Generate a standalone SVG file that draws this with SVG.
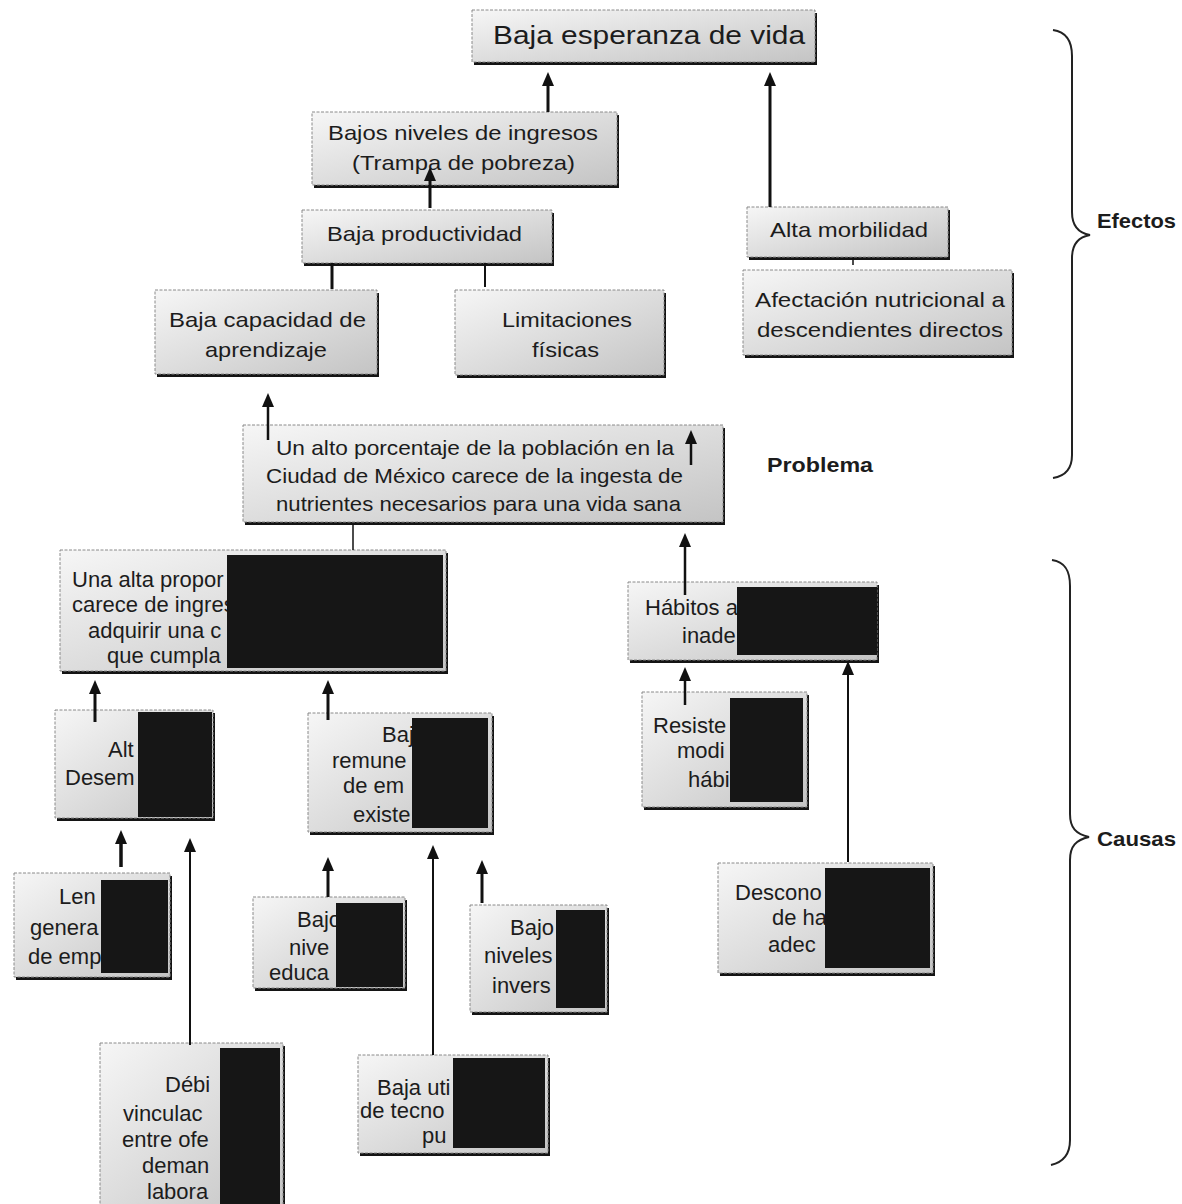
<svg xmlns="http://www.w3.org/2000/svg" width="1182" height="1204" viewBox="0 0 1182 1204">
<defs>
<linearGradient id="g" x1="0" y1="0" x2="1" y2="1">
<stop offset="0" stop-color="#f6f6f6"/>
<stop offset="1" stop-color="#c4c4c4"/>
</linearGradient>
<marker id="ah" markerUnits="userSpaceOnUse" markerWidth="14" markerHeight="14" refX="4" refY="7" orient="auto">
<path d="M0,1 L14,7 L0,13 z" fill="#111"/>
</marker>
<style>
.bx{fill:url(#g);stroke:#8a8a8a;stroke-width:1;stroke-dasharray:3 1.5}
.sh{fill:#141414}
.bk{fill:#161616}
text{font-family:"Liberation Sans",Arial,sans-serif;font-size:22px;fill:#1c1c1c}
.m{font-size:21px}
.lbl{font-weight:bold;font-size:21px}
.c{stroke:#111;fill:none}
.a{marker-end:url(#ah)}
.br{stroke:#222;stroke-width:2;fill:none}
</style>
</defs>
<rect width="1182" height="1204" fill="#ffffff"/>

<g id="n-esperanza">
<rect class="sh" x="474" y="13" width="343" height="52"/>
<rect class="bx" x="472" y="10" width="343" height="52"/>
<text x="493" y="44" style="font-size:25px" textLength="312" lengthAdjust="spacingAndGlyphs">Baja esperanza de vida</text>
</g>
<g id="n-ingresos">
<rect class="sh" x="314" y="115" width="305" height="73"/>
<rect class="bx" x="312" y="112" width="305" height="73"/>
<text class="m" x="328" y="140" textLength="270" lengthAdjust="spacingAndGlyphs">Bajos niveles de ingresos</text>
<text class="m" x="352" y="170" textLength="223" lengthAdjust="spacingAndGlyphs">(Trampa de pobreza)</text>
</g>
<g id="n-productividad">
<rect class="sh" x="304" y="213" width="250" height="53"/>
<rect class="bx" x="302" y="210" width="250" height="53"/>
<text class="m" x="327" y="241" textLength="195" lengthAdjust="spacingAndGlyphs">Baja productividad</text>
</g>
<g id="n-aprendizaje">
<rect class="sh" x="157" y="293" width="222" height="84"/>
<rect class="bx" x="155" y="290" width="222" height="84"/>
<text class="m" x="169" y="327" textLength="197" lengthAdjust="spacingAndGlyphs">Baja capacidad de</text>
<text class="m" x="205" y="357" textLength="122" lengthAdjust="spacingAndGlyphs">aprendizaje</text>
</g>
<g id="n-limitaciones">
<rect class="sh" x="457" y="293" width="209" height="85"/>
<rect class="bx" x="455" y="290" width="209" height="85"/>
<text class="m" x="502" y="327" textLength="130" lengthAdjust="spacingAndGlyphs">Limitaciones</text>
<text class="m" x="532" y="357" textLength="67" lengthAdjust="spacingAndGlyphs">físicas</text>
</g>
<g id="n-morbilidad">
<rect class="sh" x="749" y="210" width="201" height="50"/>
<rect class="bx" x="747" y="207" width="201" height="50"/>
<text class="m" x="770" y="237" textLength="158" lengthAdjust="spacingAndGlyphs">Alta morbilidad</text>
</g>
<g id="n-afectacion">
<rect class="sh" x="745" y="273" width="269" height="85"/>
<rect class="bx" x="743" y="270" width="269" height="85"/>
<text class="m" x="755" y="307" textLength="250" lengthAdjust="spacingAndGlyphs">Afectación nutricional a</text>
<text class="m" x="757" y="337" textLength="246" lengthAdjust="spacingAndGlyphs">descendientes directos</text>
</g>
<g id="n-problema">
<rect class="sh" x="245" y="428" width="480" height="97"/>
<rect class="bx" x="243" y="425" width="480" height="97"/>
<text class="m" x="276" y="455" textLength="398" lengthAdjust="spacingAndGlyphs">Un alto porcentaje de la población en la</text>
<text class="m" x="266" y="483" textLength="417" lengthAdjust="spacingAndGlyphs">Ciudad de México carece de la ingesta de</text>
<text class="m" x="276" y="511" textLength="405" lengthAdjust="spacingAndGlyphs">nutrientes necesarios para una vida sana</text>
</g>
<g id="n-proporcion">
<rect class="sh" x="62" y="553" width="386" height="121"/>
<rect class="bx" x="60" y="550" width="386" height="121"/>
<text x="72" y="587">Una alta propor</text>
<text x="72" y="612">carece de ingres</text>
<text x="88" y="638">adquirir una c</text>
<text x="107" y="663">que cumpla</text>
<rect class="bk" x="227" y="555" width="216" height="113"/>
</g>
<g id="n-habitos">
<rect class="sh" x="630" y="585" width="249" height="78"/>
<rect class="bx" x="628" y="582" width="249" height="78"/>
<text x="645" y="615">Hábitos a</text>
<text x="682" y="643">inade</text>
<rect class="bk" x="737" y="587" width="140" height="68"/>
</g>
<g id="n-desempleo">
<rect class="sh" x="57" y="713" width="158" height="108"/>
<rect class="bx" x="55" y="710" width="158" height="108"/>
<text x="108" y="757">Alt</text>
<text x="65" y="785">Desem</text>
<rect class="bk" x="138" y="712" width="74" height="105"/>
</g>
<g id="n-remuneracion">
<rect class="sh" x="310" y="716" width="184" height="119"/>
<rect class="bx" x="308" y="713" width="184" height="119"/>
<text x="382" y="742">Baj</text>
<text x="332" y="768">remune</text>
<text x="343" y="793">de em</text>
<text x="353" y="822">existe</text>
<rect class="bk" x="412" y="718" width="76" height="110"/>
</g>
<g id="n-resistencia">
<rect class="sh" x="644" y="695" width="165" height="115"/>
<rect class="bx" x="642" y="692" width="165" height="115"/>
<text x="653" y="733">Resiste</text>
<text x="677" y="758">modi</text>
<text x="688" y="787">hábi</text>
<rect class="bk" x="730" y="698" width="73" height="104"/>
</g>
<g id="n-lento">
<rect class="sh" x="16" y="876" width="156" height="104"/>
<rect class="bx" x="14" y="873" width="156" height="104"/>
<text x="59" y="904">Len</text>
<text x="30" y="935">genera</text>
<text x="28" y="964">de emp</text>
<rect class="bk" x="101" y="880" width="67" height="93"/>
</g>
<g id="n-educativos">
<rect class="sh" x="255" y="900" width="152" height="91"/>
<rect class="bx" x="253" y="897" width="152" height="91"/>
<text x="297" y="927">Bajo</text>
<text x="289" y="955">nive</text>
<text x="269" y="980">educa</text>
<rect class="bk" x="336" y="903" width="67" height="84"/>
</g>
<g id="n-inversion">
<rect class="sh" x="472" y="908" width="137" height="107"/>
<rect class="bx" x="470" y="905" width="137" height="107"/>
<text x="510" y="935">Bajo</text>
<text x="484" y="963">niveles</text>
<text x="492" y="993">invers</text>
<rect class="bk" x="556" y="910" width="49" height="98"/>
</g>
<g id="n-desconocimiento">
<rect class="sh" x="720" y="866" width="215" height="110"/>
<rect class="bx" x="718" y="863" width="215" height="110"/>
<text x="735" y="900">Descono</text>
<text x="772" y="925">de ha</text>
<text x="768" y="952">adec</text>
<rect class="bk" x="825" y="868" width="105" height="100"/>
</g>
<g id="n-debil">
<rect class="sh" x="102" y="1046" width="183" height="165"/>
<rect class="bx" x="100" y="1043" width="183" height="165"/>
<text x="165" y="1092">Débi</text>
<text x="123" y="1121">vinculac</text>
<text x="122" y="1147">entre ofe</text>
<text x="142" y="1173">deman</text>
<text x="147" y="1199">labora</text>
<rect class="bk" x="220" y="1048" width="60" height="160"/>
</g>
<g id="n-tecnologia">
<rect class="sh" x="360" y="1058" width="190" height="98"/>
<rect class="bx" x="358" y="1055" width="190" height="98"/>
<text x="377" y="1095">Baja uti</text>
<text x="360" y="1118">de tecno</text>
<text x="422" y="1143">pu</text>
<rect class="bk" x="453" y="1058" width="92" height="90"/>
</g>

<g id="connectors">
<line class="c a" x1="548" y1="112" x2="548" y2="82" stroke-width="3"/>
<line class="c a" x1="770" y1="207" x2="770" y2="82" stroke-width="3"/>
<line class="c a" x1="430" y1="208" x2="430" y2="177" stroke-width="3"/>
<line class="c" x1="332" y1="263" x2="332" y2="289" stroke-width="3"/>
<line class="c" x1="485" y1="263" x2="485" y2="287" stroke-width="2"/>
<line class="c" x1="853" y1="258" x2="853" y2="265" stroke-width="1.5"/>
<line class="c a" x1="268" y1="440" x2="268" y2="403" stroke-width="2.5"/>
<line class="c a" x1="691" y1="465" x2="691" y2="440" stroke-width="2.5"/>
<line class="c" x1="353" y1="524" x2="353" y2="550" stroke-width="1.5"/>
<line class="c a" x1="685" y1="595" x2="685" y2="543" stroke-width="2.5"/>
<line class="c a" x1="95" y1="722" x2="95" y2="690" stroke-width="3"/>
<line class="c a" x1="328" y1="720" x2="328" y2="690" stroke-width="3"/>
<line class="c a" x1="685" y1="705" x2="685" y2="677" stroke-width="2.5"/>
<line class="c a" x1="848" y1="862" x2="848" y2="671" stroke-width="2"/>
<line class="c a" x1="121" y1="867" x2="121" y2="840" stroke-width="3.5"/>
<line class="c a" x1="190" y1="1045" x2="190" y2="848" stroke-width="2"/>
<line class="c a" x1="328" y1="897" x2="328" y2="867" stroke-width="3"/>
<line class="c a" x1="433" y1="1055" x2="433" y2="855" stroke-width="2"/>
<line class="c a" x1="482" y1="903" x2="482" y2="870" stroke-width="3"/>
</g>

<g id="braces">
<path class="br" d="M1053,30 C1067,32 1072,42 1072,56 L1072,212 C1072,226 1078,233 1090,235 C1078,237 1072,244 1072,258 L1072,455 C1072,468 1066,476 1053,478"/>
<path class="br" d="M1052,560 C1066,562 1070,572 1070,586 L1070,814 C1070,828 1076,834 1089,837 C1076,840 1070,846 1070,860 L1070,1140 C1070,1153 1064,1162 1051,1165"/>
<text class="lbl" x="1097" y="228" textLength="79" lengthAdjust="spacingAndGlyphs">Efectos</text>
<text class="lbl" x="767" y="472" textLength="106" lengthAdjust="spacingAndGlyphs">Problema</text>
<text class="lbl" x="1097" y="846" textLength="79" lengthAdjust="spacingAndGlyphs">Causas</text>
</g>
</svg>
